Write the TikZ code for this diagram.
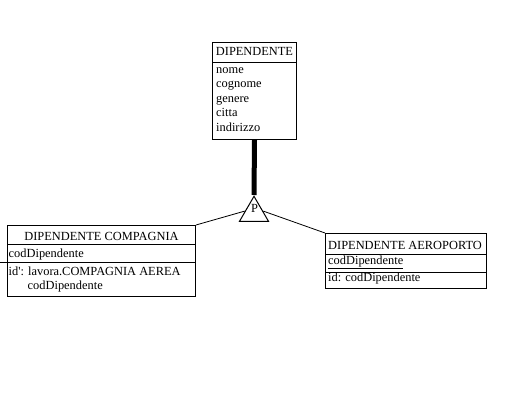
\documentclass[tikz,border=0pt]{standalone}
\usepackage{fontspec}
\setmainfont{Liberation Serif}
\usetikzlibrary{positioning, shapes.geometric, calc}

\begin{document}
\begin{tikzpicture}[x=1pt, y=-1pt,
        % STYLES
        entity/.style={rectangle, draw=black, line width=1pt, anchor=north west, inner sep=0pt},
        entity_text/.style={font=\fontsize{12.4}{14.5}\selectfont, inner sep=0pt, align=left},
        isa_triangle/.style={isosceles triangle, shape border rotate=90, isosceles triangle stretches, draw=black, line width=1pt, minimum width=29pt, minimum height=25pt, inner sep=0pt, anchor=apex},
        % CONNECTORS
        link/.style={draw=black, line width=0.8pt},
        isa_link/.style={draw=black, line width=5pt}
    ]
    \useasboundingbox (0,0) rectangle (527,401);
    \fill[white] (0,0) rectangle (527,401);

    % ===================================
    % 1. Entita' padre
    % ===================================
    \node[entity, minimum width=84pt, minimum height=97pt] (dip) at (212,42) {};
    \node[entity_text, anchor=base] (dip_title) at ($(dip.north)+(0,14)$) {DIPENDENTE};
    \draw[link] ($(dip.north west)+(0,20)$) -- ($(dip.north east)+(0,20)$);
    % (base = ultima riga)
    \node[entity_text, anchor=base west] (dip_attr) at ($(dip.north west)+(4,89.5)$)
        {nome\\cognome\\genere\\citta\\indirizzo};

    % --- Gerarchia (P) ---
    \node[isa_triangle] (isa) at (254,195) {};
    \node[entity_text, anchor=base] (isa_label) at ($(isa.apex)+(0.5,17)$) {P};
    \draw[isa_link] (dip.south) -- (isa.apex);

    % ===================================
    % 2. Entita' figlie
    % ===================================
    \node[entity, minimum width=188pt, minimum height=71pt] (comp) at (7,225) {};
    \node[entity_text, anchor=base] (comp_title) at ($(comp.north)+(0,15)$) {DIPENDENTE COMPAGNIA};
    \draw[link] ($(comp.north west)+(0,19)$) -- ($(comp.north east)+(0,19)$);
    \draw[link] ($(comp.north west)+(-7,37)$) -- ($(comp.north east)+(0,37)$);
    \node[entity_text, anchor=base west] (comp_attr) at ($(comp.north west)+(1.5,32)$) {codDipendente};
    \node[entity_text, anchor=base west] (comp_id) at ($(comp.north west)+(1.5,64.5)$)
        {id\textquotesingle: lavora.COMPAGNIA AEREA\\\hspace*{19pt}codDipendente};

    \node[entity, minimum width=161pt, minimum height=55pt] (aer) at (325,233) {};
    \node[entity_text, anchor=base west] (aer_title) at ($(aer.north west)+(3,16)$) {DIPENDENTE AEROPORTO};
    \draw[link] ($(aer.north west)+(0,21)$) -- ($(aer.north east)+(0,21)$);
    \draw[link] ($(aer.north west)+(0,39)$) -- ($(aer.north east)+(0,39)$);
    \node[entity_text, anchor=base west] (aer_attr) at ($(aer.north west)+(3,31)$) {\underline{codDipendente}};
    \node[entity_text, anchor=base west] (aer_id) at ($(aer.north west)+(3,48)$) {id: codDipendente};

    % collegamenti figlie -> triangolo
    \draw[link] (comp.north east) -- ($(isa.apex)!0.6!(isa.left corner)$);
    \draw[link] (aer.north west) -- ($(isa.apex)!0.6!(isa.right corner)$);

\end{tikzpicture}
\end{document}
